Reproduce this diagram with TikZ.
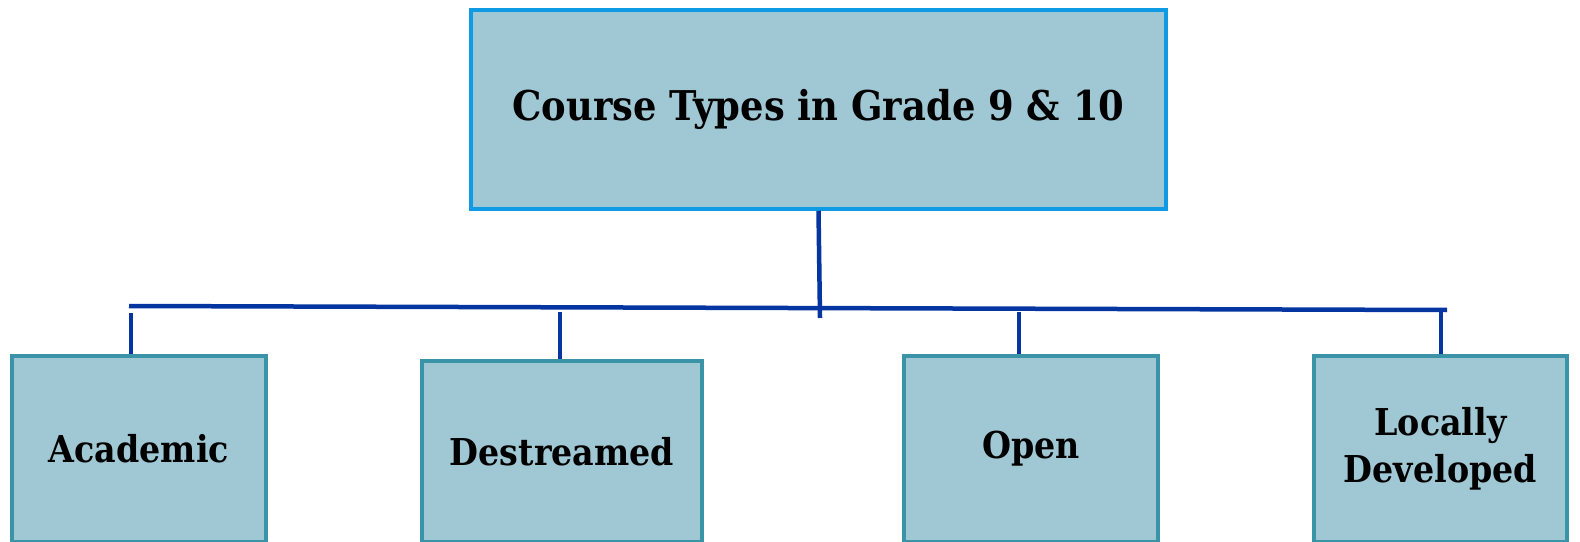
\documentclass[tikz,border=0pt]{standalone}
\usepackage{fontspec}
\setmainfont{DejaVu Serif}[FakeStretch=0.9]
\definecolor{boxfill}{HTML}{9FC7D4}
\definecolor{topedge}{HTML}{0F9BE3}
\definecolor{subedge}{HTML}{3B93A7}
\definecolor{linkblue}{HTML}{0535A0}
\begin{document}
\begin{tikzpicture}[x=1bp,y=-1bp,
  topbox/.style={draw=topedge,line width=3.5bp,fill=boxfill,minimum width=695bp,minimum height=199bp,inner sep=0pt,
    font=\fontsize{41bp}{46bp}\selectfont\bfseries},
  subbox/.style={draw=subedge,line width=3.5bp,fill=boxfill,minimum width=254bp,inner sep=0pt,align=center,
    font=\fontsize{37bp}{47bp}\selectfont\bfseries},
  link/.style={draw=linkblue,line width=4.5bp}]
\useasboundingbox (0,0) rectangle (1580,542);
\node[topbox] (top) at (818.5,109.5) {Course Types in Grade 9 \& 10};
\node[subbox,minimum height=186bp] (acad) at (139,449) {Academic};
\node[subbox,minimum height=181bp,minimum width=280bp] (dest) at (562,451.5) {Destreamed};
\node[subbox,minimum height=186bp] (open) at (1031,449) {Open};
\node[subbox,minimum height=186bp,minimum width=253bp] (loc) at (1440.5,449) {Locally\\Developed};
\coordinate (hub) at (820,318);
\coordinate (hl) at (129,306);
\coordinate (hr) at (1447,310);
\coordinate (da) at (131,313);
\coordinate (dd) at (560,312);
\coordinate (dopen) at (1019,312);
\coordinate (dl) at (1441,311);
\draw[link] (top.south) -- (hub);
\draw[link] (hl) -- (hr);
\draw[link] (da) -- (da |- acad.north);
\draw[link] (dd) -- (dd |- dest.north);
\draw[link] (dopen) -- (dopen |- open.north);
\draw[link] (dl) -- (dl |- loc.north);
\end{tikzpicture}
\end{document}
